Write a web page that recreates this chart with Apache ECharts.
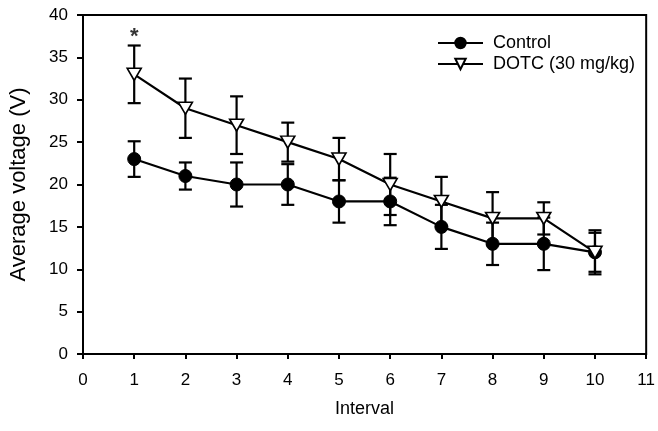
<!DOCTYPE html>
<html>
<head>
<meta charset="utf-8">
<script src="https://cdn.jsdelivr.net/npm/echarts@6/dist/echarts.min.js"></script>
<style>
  html, body { margin: 0; padding: 0; background: #fff; }
  #chart { width: 658px; height: 431px; }
</style>
</head>
<body>
<div id="chart"></div>
<script>
// values
var intervals = [1, 2, 3, 4, 5, 6, 7, 8, 9, 10]
var controlMean = [23, 21, 20, 20, 18, 18, 15, 13, 13, 12]
var controlErr = [2.1, 1.6, 2.6, 2.4, 2.5, 2.8, 2.6, 2.5, 3.1, 2.3]
var dotcMean = [33, 29, 27, 25, 23, 20, 18, 16, 16, 12]
var dotcErr = [3.4, 3.5, 3.4, 2.3, 2.5, 3.6, 2.9, 3.1, 1.9, 2.6]
var significant = [[1, 38]]
var xTicks = [0, 1, 2, 3, 4, 5, 6, 7, 8, 9, 10, 11]
var yTicks = [0, 5, 10, 15, 20, 25, 30, 35, 40]

var font = 'Liberation Sans, Arial, sans-serif'

function pairs (mean) {
  return intervals.map(function (x, i) { return [x, mean[i]] })
}
function errRows (mean, err) {
  return intervals.map(function (x, i) { return [x, mean[i] - err[i], mean[i] + err[i]] })
}

function renderErr (params, api) {
  var top = api.coord([api.value(0), api.value(2)])
  var bot = api.coord([api.value(0), api.value(1)])
  var w = 6.5
  var st = { stroke: '#000', lineWidth: 2.2 }
  return {
    type: 'group',
    children: [
      { type: 'line', shape: { x1: top[0], y1: top[1], x2: bot[0], y2: bot[1] }, style: st },
      { type: 'line', shape: { x1: top[0] - w, y1: top[1], x2: top[0] + w, y2: top[1] }, style: st },
      { type: 'line', shape: { x1: bot[0] - w, y1: bot[1], x2: bot[0] + w, y2: bot[1] }, style: st }
    ]
  }
}

var myChart = echarts.init(document.getElementById('chart'))
myChart.setOption({
  animation: false,
  backgroundColor: '#fff',
  grid: {
    left: 82,
    right: 6,
    top: 15,
    bottom: 77,
    show: true,
    borderColor: '#000',
    borderWidth: 2
  },
  legend: {
    left: 432,
    top: 29,
    orient: 'vertical',
    itemWidth: 45,
    itemHeight: 13,
    itemGap: 3,
    data: ['Control', 'DOTC (30 mg/kg)'],
    textStyle: { fontFamily: font, fontSize: 18, color: '#000', padding: [0, 0, 0, 5] }
  },
  xAxis: {
    type: 'value',
    min: 0,
    max: 11,
    interval: 1,
    name: 'Interval',
    nameLocation: 'middle',
    nameGap: 46,
    nameTextStyle: { fontFamily: font, fontSize: 18, color: '#000' },
    axisLine: { show: true, lineStyle: { color: '#000', width: 2 } },
    axisTick: { show: true, length: 5, lineStyle: { color: '#000', width: 2 } },
    axisLabel: {
      margin: 18,
      fontFamily: font,
      fontSize: 17,
      color: '#000',
      formatter: function (v) { return xTicks.indexOf(v) >= 0 ? String(v) : '' }
    },
    splitLine: { show: false }
  },
  yAxis: {
    type: 'value',
    min: 0,
    max: 40,
    interval: 5,
    name: 'Average voltage (V)',
    nameLocation: 'middle',
    nameGap: 53,
    nameTextStyle: { fontFamily: font, fontSize: 22, color: '#000' },
    axisLine: { show: true, lineStyle: { color: '#000', width: 2 } },
    axisTick: { show: true, length: 6, lineStyle: { color: '#000', width: 2 } },
    axisLabel: {
      margin: 15,
      fontFamily: font,
      fontSize: 17,
      color: '#000',
      formatter: function (v) { return yTicks.indexOf(v) >= 0 ? String(v) : '' }
    },
    splitLine: { show: false }
  },
  series: [
    {
      name: 'Control',
      type: 'line',
      data: pairs(controlMean),
      symbol: 'circle',
      symbolSize: 13,
      lineStyle: { color: '#000', width: 2.2 },
      itemStyle: { color: '#000', borderColor: '#000', borderWidth: 1 },
      z: 3
    },
    {
      name: 'DOTC (30 mg/kg)',
      type: 'line',
      data: pairs(dotcMean),
      symbol: 'triangle',
      symbolRotate: 180,
      symbolSize: [14, 12],
      lineStyle: { color: '#000', width: 2.2 },
      itemStyle: { color: '#fff', borderColor: '#000', borderWidth: 1.6 },
      z: 4
    },
    {
      name: 'controlErr',
      type: 'custom',
      renderItem: renderErr,
      data: errRows(controlMean, controlErr),
      encode: { x: 0, y: [1, 2] },
      z: 2
    },
    {
      name: 'dotcErr',
      type: 'custom',
      renderItem: renderErr,
      data: errRows(dotcMean, dotcErr),
      encode: { x: 0, y: [1, 2] },
      z: 2
    },
    {
      name: 'sig',
      type: 'scatter',
      data: significant,
      symbolSize: 1,
      itemStyle: { color: 'rgba(0,0,0,0)' },
      label: {
        show: true,
        position: 'inside',
        offset: [0, 5],
        formatter: '*',
        fontFamily: font,
        fontSize: 22,
        fontWeight: 'bold',
        color: '#000'
      }
    }
  ]
})
</script>
</body>
</html>
